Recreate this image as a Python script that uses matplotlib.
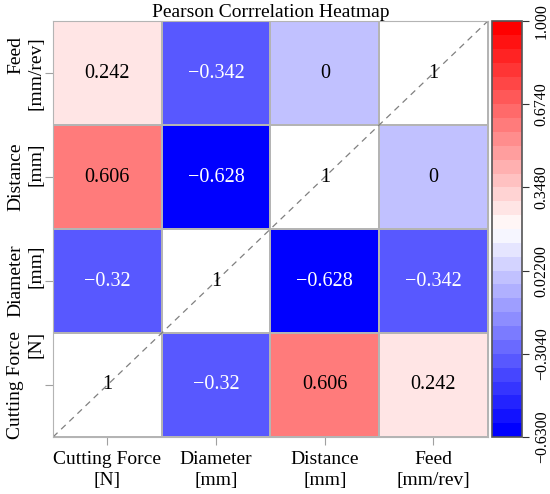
import matplotlib
matplotlib.use("Agg")
import matplotlib.pyplot as plt
import numpy as np

plt.rcParams['font.family'] = ['Liberation Serif', 'DejaVu Serif']

# variables and correlation matrix (row = y variable, bottom to top)
labels = ['Cutting Force\n[N]', 'Diameter\n[mm]', 'Distance\n[mm]', 'Feed\n[mm/rev]']
corr = np.array([
    [1.0, -0.32, 0.606, 0.242],
    [-0.32, 1.0, -0.628, -0.342],
    [0.606, -0.628, 1.0, 0.0],
    [0.242, -0.342, 0.0, 1.0],
])
cell_text = [
    ['1', '\u22120.32', '0.606', '0.242'],
    ['\u22120.32', '1', '\u22120.628', '\u22120.342'],
    ['0.606', '\u22120.628', '1', '0'],
    ['0.242', '\u22120.342', '0', '1'],
]
vmin, vmax = -0.63, 1.0
cbar_ticks = np.linspace(vmin, vmax, 6)
cbar_labels = ['\u22120.6300', '\u22120.3040', '0.02200', '0.3480', '0.6740', '1.000']

n = len(labels)
cmap = plt.get_cmap('bwr', 30)

fig = plt.figure(figsize=(5.5, 4.94), dpi=100)
ax = fig.add_axes([0.0964, 0.1154, 0.7906, 0.842])
cax = fig.add_axes([0.8945, 0.1154, 0.0545, 0.842])

masked = np.ma.masked_where(np.eye(n, dtype=bool), corr)
ax.set_facecolor('white')
mesh = ax.pcolormesh(np.arange(n + 1), np.arange(n + 1), masked, cmap=cmap,
                     vmin=vmin, vmax=vmax, edgecolors='#b4b4b4', linewidth=1.2)
# outline diagonal cells too
for i in range(n):
    ax.add_patch(plt.Rectangle((i, i), 1, 1, fill=False, ec='#b4b4b4', lw=1.2))

ax.plot([0, n], [0, n], ls=(0, (5, 4)), color='#808080', lw=0.9)

for i in range(n):
    for j in range(n):
        v = corr[i, j]
        col = 'white' if (v < -0.2 and i != j) else 'black'
        ax.text(j + 0.5, i + 0.5, cell_text[i][j], ha='center', va='center',
                fontsize=14.5, color=col)

ax.set_xlim(0, n)
ax.set_ylim(0, n)
ax.set_xticks(np.arange(n) + 0.5)
ax.set_xticklabels(labels, fontsize=14, linespacing=1.35)
ax.set_yticks(np.arange(n) + 0.5)
ax.set_yticklabels(labels, fontsize=14, rotation=90, va='center', linespacing=1.25)
ax.tick_params(length=6, color='#a0a0a0')
ax.tick_params(axis='x', pad=4)
ax.tick_params(axis='y', pad=0)
for s in ax.spines.values():
    s.set_color('#b4b4b4')
ax.set_title('Pearson Corrrelation Heatmap', fontsize=14, pad=2)

cb = fig.colorbar(mesh, cax=cax, ticks=cbar_ticks)
cb.set_ticklabels(cbar_labels)
cb.ax.tick_params(labelsize=11.5, length=5, color='#333333', labelrotation=90)
for t in cb.ax.get_yticklabels():
    t.set_va('center')
cb.outline.set_edgecolor('#555555')
cb.outline.set_linewidth(1.2)

fig.savefig('out.png', dpi=100)
